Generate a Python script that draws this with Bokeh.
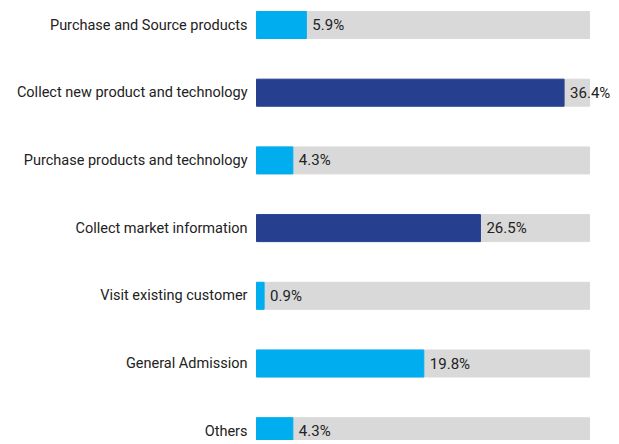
from bokeh.plotting import figure
from bokeh.models import ColumnDataSource, Range1d
from bokeh.core.properties import value
from bokeh.embed import file_html
from bokeh.resources import INLINE

categories = [
    "Purchase and Source products",
    "Collect new product and technology",
    "Purchase products and technology",
    "Collect market information",
    "Visit existing customer",
    "General Admission",
    "Others",
]
values = [5.9, 36.4, 4.3, 26.5, 0.9, 19.8, 4.3]
highlight = [False, True, False, True, False, False, False]
track_max = 39.4

LIGHT = "#00AEEF"
DARK = "#26408F"
GREY = "#D9D9D9"
FONT = "Roboto"

W, H = 611, 440
px_per_unit = 8.45
left_px = 256
x_start = -left_px / px_per_unit
x_end = x_start + W / px_per_unit

row_px = 67.7
top_px = 24.5
n = len(categories)
y_top = -top_px / row_px
y_bottom = y_top + H / row_px

src = ColumnDataSource(dict(
    y=list(range(n)),
    cat=categories,
    val=values,
    track=[track_max] * n,
    color=[DARK if h else LIGHT for h in highlight],
    label=[f"{v}%" for v in values],
    zero=[0] * n,
))

p = figure(width=W, height=H, output_backend="svg", toolbar_location=None,
           x_range=Range1d(x_start, x_end), y_range=Range1d(y_bottom, y_top),
           min_border=0, outline_line_color=None)
p.axis.visible = False
p.grid.visible = False
p.background_fill_color = "white"
p.border_fill_color = "white"

bh = 27 / row_px
p.hbar(y="y", left=0, right="track", height=bh, color=GREY, source=src)
p.hbar(y="y", left=0, right="val", height=bh, color="color", source=src)

p.text(x="zero", y="y", text="cat", x_offset=-9, text_align="right",
       text_baseline="middle", text_font=value(FONT),
       text_font_size="14.5px", text_color="#222222", source=src)
p.text(x="val", y="y", text="label", x_offset=6, text_align="left",
       text_baseline="middle", text_font=value(FONT),
       text_font_size="15px", text_color="#222222", source=src)

open("out.html", "w").write(file_html(p, INLINE))
